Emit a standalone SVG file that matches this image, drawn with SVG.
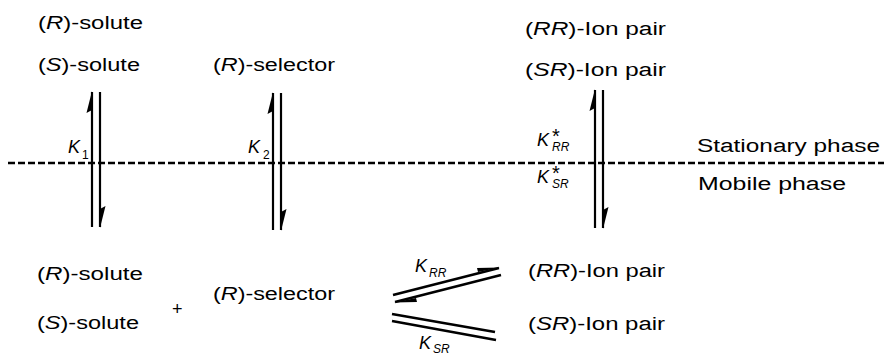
<svg xmlns="http://www.w3.org/2000/svg" width="884" height="356" viewBox="0 0 884 356">
<style>
text{font-family:"Liberation Sans",Arial,sans-serif;font-size:18px;fill:#000}
.i{font-style:italic}
.n{font-style:normal}
.sub{font-size:12px}
.ast{font-size:20px}
.ln{stroke:#000;stroke-width:2.2;fill:none}
.thk{stroke:#000;stroke-width:2.6;fill:none}
.dash{stroke:#000;stroke-width:2.6;stroke-dasharray:7 3;fill:none}
.hd{fill:#000;stroke:none}
</style>
<rect width="884" height="356" fill="#fff"/>
<g id="connectors">
<line class="dash" x1="8" y1="163" x2="884" y2="163"/>
<line class="ln" x1="92" y1="92" x2="92" y2="227"/>
<line class="ln" x1="100" y1="92" x2="100" y2="227"/>
<polygon class="hd" points="92,91 86.5,113 92,110"/>
<polygon class="hd" points="100,228 105.5,206 100,209"/>
<line class="ln" x1="273" y1="93" x2="273" y2="230"/>
<line class="ln" x1="281" y1="93" x2="281" y2="230"/>
<polygon class="hd" points="273,92 267.5,114 273,111"/>
<polygon class="hd" points="281,231 286.5,209 281,212"/>
<line class="ln" x1="595" y1="90" x2="595" y2="228"/>
<line class="ln" x1="603" y1="90" x2="603" y2="228"/>
<polygon class="hd" points="595,89 589.5,111 595,108"/>
<polygon class="hd" points="603,229 608.5,207 603,210"/>
<line class="thk" x1="393" y1="295" x2="499" y2="268"/>
<line class="thk" x1="395" y1="302" x2="501" y2="275"/>
<polygon class="hd" points="500,267.5 477,268 478,272"/>
<polygon class="hd" points="394,302.5 417,302 416,298"/>
<line class="thk" x1="392" y1="314" x2="495" y2="332"/>
<line class="thk" x1="392" y1="321" x2="496" y2="340"/>
</g>
<g id="top-solutes">
<text x="38" y="29" textLength="105" lengthAdjust="spacingAndGlyphs">(<tspan class="i">R</tspan>)-solute</text>
<text x="38" y="71" textLength="102" lengthAdjust="spacingAndGlyphs">(<tspan class="i">S</tspan>)-solute</text>
</g>
<g id="top-selector">
<text x="213" y="71" textLength="122" lengthAdjust="spacingAndGlyphs">(<tspan class="i">R</tspan>)-selector</text>
</g>
<g id="top-ionpairs">
<text x="525" y="35" textLength="141" lengthAdjust="spacingAndGlyphs">(<tspan class="i">RR</tspan>)-Ion pair</text>
<text x="525" y="76" textLength="141" lengthAdjust="spacingAndGlyphs">(<tspan class="i">SR</tspan>)-Ion pair</text>
</g>
<g id="phases">
<text x="697" y="152" textLength="183" lengthAdjust="spacingAndGlyphs">Stationary phase</text>
<text x="698" y="190" textLength="148" lengthAdjust="spacingAndGlyphs">Mobile phase</text>
</g>
<g id="k-labels">
<text class="i" x="68" y="153">K<tspan class="sub n" x="82" y="159">1</tspan></text>
<text class="i" x="248" y="153">K<tspan class="sub n" x="263" y="159">2</tspan></text>
<text class="i" x="537" y="146">K<tspan class="ast n" x="552" y="143">*</tspan><tspan class="sub" x="552" y="151">RR</tspan></text>
<text class="i" x="537" y="183">K<tspan class="ast n" x="552" y="180">*</tspan><tspan class="sub" x="552" y="188">SR</tspan></text>
<text class="i" x="415" y="272">K<tspan class="sub" x="429" y="277">RR</tspan></text>
<text class="i" x="419" y="349">K<tspan class="sub" x="433" y="353">SR</tspan></text>
</g>
<g id="bottom-solutes">
<text x="37" y="280" textLength="106" lengthAdjust="spacingAndGlyphs">(<tspan class="i">R</tspan>)-solute</text>
<text x="37" y="329" textLength="102" lengthAdjust="spacingAndGlyphs">(<tspan class="i">S</tspan>)-solute</text>
</g>
<g id="plus"><text x="172" y="315">+</text></g>
<g id="bottom-selector">
<text x="213" y="300" textLength="122" lengthAdjust="spacingAndGlyphs">(<tspan class="i">R</tspan>)-selector</text>
</g>
<g id="bottom-ionpairs">
<text x="528" y="277" textLength="137" lengthAdjust="spacingAndGlyphs">(<tspan class="i">RR</tspan>)-Ion pair</text>
<text x="528" y="330" textLength="137" lengthAdjust="spacingAndGlyphs">(<tspan class="i">SR</tspan>)-Ion pair</text>
</g>
</svg>
